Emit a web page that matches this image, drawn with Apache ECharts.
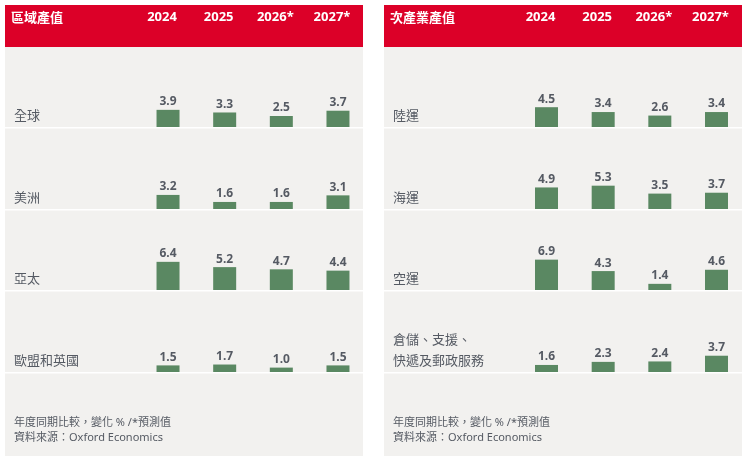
<!DOCTYPE html>
<html>
<head>
<meta charset="utf-8">
<script src="https://cdn.jsdelivr.net/npm/echarts@6/dist/echarts.min.js"></script>
<style>
  html, body { margin: 0; padding: 0; background: #fff; }
  #main { width: 748px; height: 462px; }
</style>
</head>
<body>
<div id="main"></div>
<script>
// 數據
var years = ['2024', '2025', '2026*', '2027*'];

var regionTitle = '區域產值';
var regionNames = ['全球', '美洲', '亞太', '歐盟和英國'];
var globalValues = [3.9, 3.3, 2.5, 3.7];
var americasValues = [3.2, 1.6, 1.6, 3.1];
var asiaPacificValues = [6.4, 5.2, 4.7, 4.4];
var euUkValues = [1.5, 1.7, 1.0, 1.5];

var sectorTitle = '次產業產值';
var sectorNames = ['陸運', '海運', '空運', '倉儲、支援、\n快遞及郵政服務'];
var landValues = [4.5, 3.4, 2.6, 3.4];
var seaValues = [4.9, 5.3, 3.5, 3.7];
var airValues = [6.9, 4.3, 1.4, 4.6];
var warehousingValues = [1.6, 2.3, 2.4, 3.7];

var footNote = '年度同期比較，變化 % /*預測值';
var sourceNote = '資料來源：Oxford Economics';

// 版面
var FONT = '"Noto Sans", "Noto Sans CJK TC", sans-serif';
var RED = '#dc0028';
var BG = '#f2f1ef';
var GREEN = '#5a8862';
var TEXT = '#555a63';
var rowBottoms = [127, 209, 290, 372];
var rowH = 40;
var yMax = rowH / 4.4;

var panels = [
  { x: 5, w: 358, gridLeft: 139.7, gridRight: 381.7, title: regionTitle, names: regionNames,
    rows: [globalValues, americasValues, asiaPacificValues, euUkValues] },
  { x: 384, w: 358, gridLeft: 518.2, gridRight: 3.2, title: sectorTitle, names: sectorNames,
    rows: [landValues, seaValues, airValues, warehousingValues] }
];

var grid = [], xAxis = [], yAxis = [], series = [], graphic = [];

panels.forEach(function(p) {
  // 背景與表頭
  graphic.push({ type: 'rect', z: 0, shape: { x: p.x, y: 5, width: p.w, height: 451 }, style: { fill: BG } });
  graphic.push({ type: 'rect', z: 0, shape: { x: p.x, y: 5, width: p.w, height: 42 }, style: { fill: RED } });
  graphic.push({ type: 'text', z: 10, x: p.x + 6, y: 18,
    style: { text: p.title, fill: '#fff', font: 'bold 13px ' + FONT, textVerticalAlign: 'middle' } });
  graphic.push({ type: 'text', z: 10, x: p.x + 9, y: 423,
    style: { text: footNote, fill: TEXT, font: '11px ' + FONT, textVerticalAlign: 'middle' } });
  graphic.push({ type: 'text', z: 10, x: p.x + 9, y: 438,
    style: { text: sourceNote, fill: TEXT, font: '11px ' + FONT, textVerticalAlign: 'middle' } });

  p.rows.forEach(function(vals, r) {
    var gi = grid.length;
    var xi = xAxis.length;
    var bottom = rowBottoms[r];
    grid.push({ left: p.gridLeft, right: p.gridRight, top: bottom - rowH, height: rowH });
    xAxis.push({ type: 'category', gridIndex: gi, data: years, show: false });
    yAxis.push({ type: 'value', gridIndex: gi, min: 0, max: yMax, show: false });
    series.push({
      type: 'bar', xAxisIndex: xi, yAxisIndex: gi, data: vals, barWidth: 23,
      itemStyle: { color: GREEN },
      label: {
        show: true, position: 'top', distance: 2, color: TEXT,
        fontFamily: FONT, fontSize: 12, fontWeight: 'bold',
        formatter: function(d) { return d.value.toFixed(1); }
      }
    });
    if (r === 0) {
      // 表頭年份
      xAxis.push({
        type: 'category', gridIndex: gi, data: years, position: 'top', offset: 63,
        axisLine: { show: false }, axisTick: { show: false },
        axisLabel: { color: '#fff', fontFamily: FONT, fontSize: 13, fontWeight: 'bold', margin: 0,
          padding: [0, 12, 0, 0] }
      });
    }
    // 分隔線與列名
    graphic.push({ type: 'rect', z: 5, shape: { x: p.x, y: bottom, width: p.w, height: 1.5 }, style: { fill: '#fff' } });
    graphic.push({ type: 'text', z: 10, x: p.x + 9, y: bottom - 0.5,
      style: { text: p.names[r], fill: TEXT, font: '13px ' + FONT, lineHeight: 21, textVerticalAlign: 'bottom' } });
  });
});

var myChart = echarts.init(document.getElementById('main'));
myChart.setOption({
  animation: false,
  grid: grid,
  xAxis: xAxis,
  yAxis: yAxis,
  series: series,
  graphic: graphic
});
</script>
</body>
</html>
